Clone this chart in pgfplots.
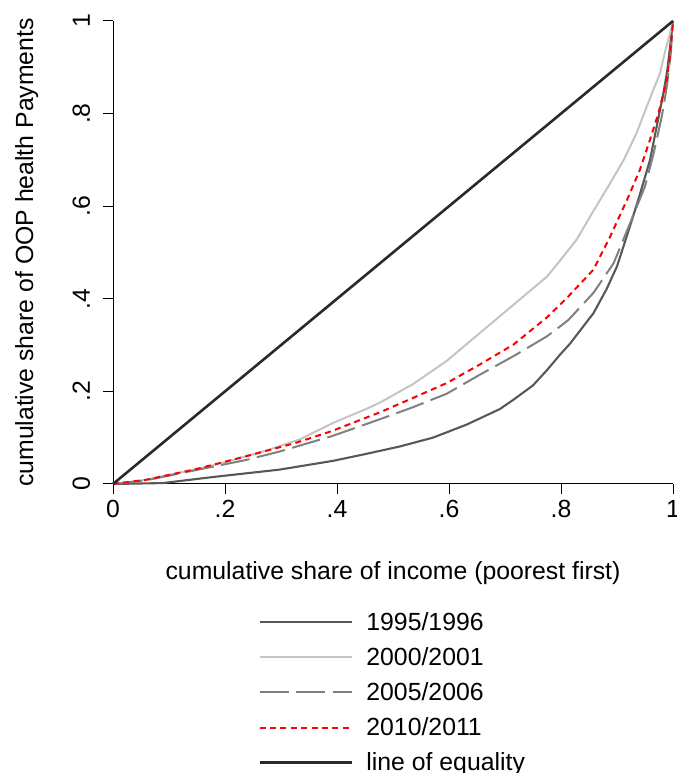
\documentclass[border=0pt]{standalone}
\usepackage{pgfplots}
\pgfplotsset{compat=1.18}
\usepackage{fontspec}
\setmainfont{Liberation Sans}
\usetikzlibrary{calc}

\definecolor{cA}{RGB}{88,88,88}
\definecolor{cB}{RGB}{196,196,196}
\definecolor{cC}{RGB}{128,128,128}
\definecolor{cD}{RGB}{255,0,0}
\definecolor{cE}{RGB}{42,42,42}

\begin{document}%
\fontsize{12.4pt}{14.8pt}\selectfont%
\begin{tikzpicture}
\begin{axis}[
  name=ax,
  scale only axis,
  width=280pt, height=231.5pt,
  xmin=0, xmax=1, ymin=0, ymax=1,
  enlargelimits=false,
  clip=false,
  axis lines*=left,
  axis line style={line width=0.5pt, black},
  tick align=outside,
  major tick length=5pt,
  every tick/.style={black, line width=0.5pt},
  xtick={0,0.2,0.4,0.6,0.8,1},
  xticklabels={0,.2,.4,.6,.8,1},
  ytick={0,0.2,0.4,0.6,0.8,1},
  yticklabels={0,.2,.4,.6,.8,1},
  xticklabel style={anchor=north, inner sep=0pt},
  yticklabel style={rotate=90, anchor=south, inner sep=0pt},
  xticklabel shift=2.8pt,
  yticklabel shift=6.3pt,
  xlabel={cumulative share of income (poorest first)},
  ylabel={cumulative share of OOP health Payments},
  xlabel style={at={(axis description cs:0.5,-0.20734)}, anchor=base, inner sep=0pt},
  ylabel style={at={(axis description cs:-0.142857,0.5)}, rotate=0, anchor=base, inner sep=0pt},
  legend style={
    draw=none, fill=none,
    at={(0.2593,-0.2765)}, anchor=north west,
    inner sep=0pt, outer sep=0pt,
    column sep=6.5pt, row sep=5.55pt,
    nodes={inner sep=0pt, text height=9pt, text depth=3pt},
  },
  legend cell align=left,
  legend image code/.code={\draw[#1] (0pt,0.9pt) -- (46.3pt,0.9pt);},
]
% 1995/1996
\addplot[cA, line width=1.05pt] coordinates {
(0,0) (0.089,0.002) (0.178,0.015) (0.297,0.031) (0.393,0.050) (0.452,0.065)
(0.512,0.081) (0.571,0.100) (0.631,0.128) (0.691,0.162) (0.715,0.182)
(0.750,0.213) (0.775,0.246) (0.798,0.279) (0.816,0.303) (0.858,0.369)
(0.881,0.420) (0.900,0.470) (0.923,0.556) (0.941,0.626) (0.959,0.700)
(0.971,0.773) (0.983,0.845) (0.990,0.895) (1,1)
};
\addlegendentry{1995/1996}
% 2000/2001
\addplot[cB, line width=1pt] coordinates {
(0,0) (0.059,0.009) (0.148,0.032) (0.178,0.040) (0.238,0.060) (0.268,0.070)
(0.333,0.096) (0.393,0.132) (0.452,0.162) (0.477,0.176) (0.536,0.216)
(0.596,0.266) (0.655,0.326) (0.715,0.387) (0.775,0.448) (0.798,0.482)
(0.828,0.528) (0.858,0.590) (0.888,0.650) (0.912,0.700) (0.935,0.758)
(0.953,0.815) (0.977,0.888) (0.986,0.935) (0.995,0.975) (1,1)
};
\addlegendentry{2000/2001}
% 2005/2006
\addplot[cC, line width=1pt, dash pattern=on 14.5pt off 3.8pt] coordinates {
(0,0) (0.059,0.008) (0.148,0.030) (0.238,0.052) (0.297,0.070) (0.390,0.103)
(0.477,0.140) (0.536,0.166) (0.596,0.195) (0.655,0.236) (0.715,0.276)
(0.775,0.319) (0.798,0.340) (0.813,0.354) (0.858,0.413) (0.894,0.477)
(0.929,0.580) (0.950,0.643) (0.965,0.712) (0.980,0.794) (0.989,0.859)
(0.996,0.930) (1,1)
};
\addlegendentry{2005/2006}
% 2010/2011
\addplot[cD, line width=1pt, dash pattern=on 3pt off 2.2pt] coordinates {
(0,0) (0.059,0.009) (0.148,0.032) (0.238,0.060) (0.327,0.089) (0.390,0.114)
(0.477,0.155) (0.536,0.186) (0.596,0.218) (0.655,0.258) (0.715,0.301)
(0.775,0.360) (0.798,0.387) (0.813,0.405) (0.858,0.463) (0.888,0.535)
(0.918,0.614) (0.941,0.679) (0.959,0.744) (0.974,0.801) (0.989,0.873)
(0.995,0.930) (1,1)
};
\addlegendentry{2010/2011}
% line of equality
\addplot[cE, line width=1.3pt] coordinates {(0,0) (1,1)};
\addlegendentry{line of equality}
\end{axis}
\pgfresetboundingbox
\path[use as bounding box] ($(ax.south west)+(-56.5pt,-144.5pt)$) rectangle ($(ax.north east)+(1.5pt,10.5pt)$);
\end{tikzpicture}%
\end{document}
